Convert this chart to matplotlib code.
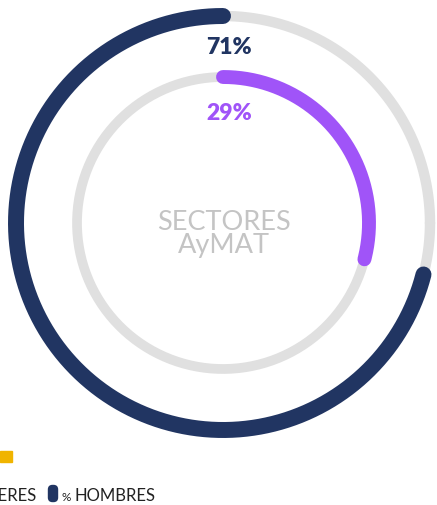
import numpy as np
import matplotlib.pyplot as plt
from matplotlib.patches import FancyBboxPatch

plt.rcParams['font.family'] = ['Lato', 'DejaVu Sans']

labels = ['% MUJERES', '% HOMBRES']
values = [29, 71]
colors = ['#a054f8', '#213562']
legend_colors = ['#f0b400', '#213562']
center_label = 'SECTORES\nAyMAT'

W, H = 437, 506
fig = plt.figure(figsize=(W / 100, H / 100), dpi=100)
ax = fig.add_axes([0, 0, 1, 1])
ax.set_xlim(0, W)
ax.set_ylim(H, 0)
ax.axis('off')

cx, cy = 223, 224
r_out, r_in = 207, 146


def ring(r, start, sweep, color, lw):
    # angles in degrees, math convention; y axis is inverted
    t = np.radians(np.linspace(start, start + sweep, 400))
    ax.plot(cx + r * np.cos(t), cy - r * np.sin(t), color=color, lw=lw,
            solid_capstyle='round')


# background tracks
ring(r_out, 0, 360, '#e0e0e0', 7.5)
ring(r_in, 0, 360, '#e0e0e0', 7)

# hombres: outer ring, counterclockwise from top
ring(r_out, 90, values[1] * 3.6, colors[1], 11.5)
# mujeres: inner ring, clockwise from top
ring(r_in, 90, -values[0] * 3.6, colors[0], 10)

ax.text(cx + 6, 47, f'{values[1]}%', color=colors[1], fontsize=16.5,
        fontweight='heavy', ha='center', va='center')
ax.text(cx + 6, 113, f'{values[0]}%', color=colors[0], fontsize=16.5,
        fontweight='heavy', ha='center', va='center')
ax.text(cx + 1, 234, center_label, color='#c4c4c4', fontsize=19.5,
        fontweight='normal', ha='center', va='center', linespacing=0.92)

# legend (partly cut off on the left)
ax.add_patch(plt.Rectangle((0, 452), 12, 11, color=legend_colors[0]))
ax.text(37, 496, labels[0].split(' ')[1], fontsize=12, color='#222222',
        ha='right', va='center')
ax.add_patch(FancyBboxPatch((50, 488), 6, 13, boxstyle='round,pad=1.5,rounding_size=4',
                            fc=legend_colors[1], ec=legend_colors[1]))
ax.text(62, 498, '%', fontsize=8.5, color='#222222', ha='left', va='center')
ax.text(75, 496, labels[1].split(' ')[1], fontsize=12, color='#222222',
        ha='left', va='center')

fig.savefig('out.png', dpi=100)
